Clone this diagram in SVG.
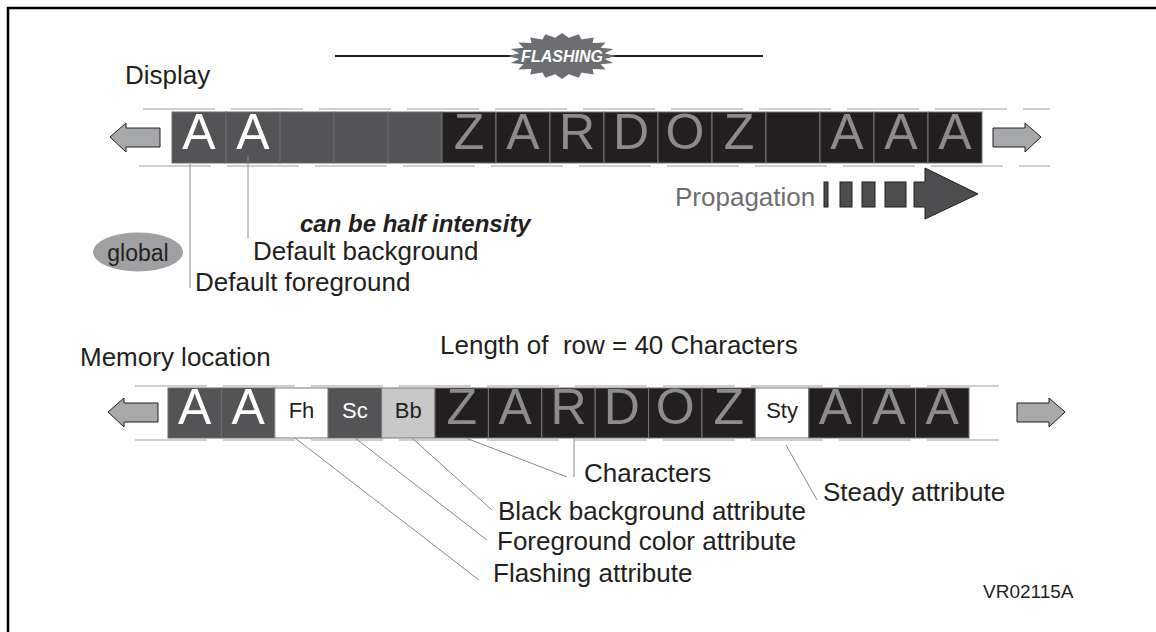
<svg xmlns="http://www.w3.org/2000/svg" width="1156" height="632" viewBox="0 0 1156 632">
<style>
.lbl{font-family:"Liberation Sans",Arial,sans-serif;font-size:26px;fill:#231f20}
.big{font-family:"Liberation Sans",Arial,sans-serif;font-size:50px;text-anchor:middle}
.sm{font-family:"Liberation Sans",Arial,sans-serif;font-size:22px;text-anchor:middle}
.gc{fill:#545456;stroke:#6a6a6c;stroke-width:1}
.bc{fill:#231f20;stroke:#77777a;stroke-width:1}
.dash{stroke:#cfcfcf;stroke-width:2;stroke-dasharray:72 16;fill:none}
.lead{stroke:#8a8a8a;stroke-width:1;fill:none}
.arr{fill:#a7a8aa;stroke:#231f20;stroke-width:1}
.prop{fill:#4d4d4f;stroke:#231f20;stroke-width:1}
</style>
<rect x="8" y="8" width="1170" height="650" fill="#fff" stroke="#000" stroke-width="2.5"/>
<g id="flashing">
<line x1="335" y1="56" x2="763" y2="56" stroke="#231f20" stroke-width="2"/>
<polygon transform="translate(562,56) scale(0.54,0.23)" fill="#6d6e71" points="100,0 79,12.5 95.1,30.9 71.3,36.3 80.9,58.8 56.6,56.6 58.8,80.9 36.3,71.3 30.9,95.1 12.5,79 0,100 -12.5,79 -30.9,95.1 -36.3,71.3 -58.8,80.9 -56.6,56.6 -80.9,58.8 -71.3,36.3 -95.1,30.9 -79,12.5 -100,0 -79,-12.5 -95.1,-30.9 -71.3,-36.3 -80.9,-58.8 -56.6,-56.6 -58.8,-80.9 -36.3,-71.3 -30.9,-95.1 -12.5,-79 0,-100 12.5,-79 30.9,-95.1 36.3,-71.3 58.8,-80.9 56.6,-56.6 80.9,-58.8 71.3,-36.3 95.1,-30.9 79,-12.5"/>
<text x="562" y="62" font-family="Liberation Sans,Arial,sans-serif" font-size="16" font-weight="bold" font-style="italic" fill="#fff" text-anchor="middle">FLASHING</text>
</g>
<g id="display-label"><text class="lbl" x="125" y="84">Display</text></g>
<g id="display-row">
<line class="dash" x1="143" y1="109" x2="1050" y2="109"/>
<line class="dash" x1="139" y1="166" x2="1050" y2="166"/>
<polygon class="arr" points="110,137 126,123 126,128 160,128 160,147 126,147 126,152"/>
<polygon class="arr" points="1041,137 1025,123 1025,128 993,128 993,147 1025,147 1025,152"/>
<rect class="gc" x="172" y="112" width="54" height="51"/>
<rect class="gc" x="226" y="112" width="54" height="51"/>
<rect class="gc" x="280" y="112" width="54" height="51"/>
<rect class="gc" x="334" y="112" width="54" height="51"/>
<rect class="gc" x="388" y="112" width="54" height="51"/>
<rect class="bc" x="442" y="112" width="54" height="51"/>
<rect class="bc" x="496" y="112" width="54" height="51"/>
<rect class="bc" x="550" y="112" width="54" height="51"/>
<rect class="bc" x="604" y="112" width="54" height="51"/>
<rect class="bc" x="658" y="112" width="54" height="51"/>
<rect class="bc" x="712" y="112" width="54" height="51"/>
<rect class="bc" x="766" y="112" width="54" height="51"/>
<rect class="bc" x="820" y="112" width="54" height="51"/>
<rect class="bc" x="874" y="112" width="54" height="51"/>
<rect class="bc" x="928" y="112" width="54" height="51"/>
<text class="big" x="199" y="149" fill="#fff">A</text>
<text class="big" x="253" y="149" fill="#fff">A</text>
<text class="big" x="469" y="149" fill="#8c8c8e">Z</text>
<text class="big" x="523" y="149" fill="#8c8c8e">A</text>
<text class="big" x="577" y="149" fill="#8c8c8e">R</text>
<text class="big" x="631" y="149" fill="#8c8c8e">D</text>
<text class="big" x="685" y="149" fill="#8c8c8e">O</text>
<text class="big" x="739" y="149" fill="#8c8c8e">Z</text>
<text class="big" x="847" y="149" fill="#8c8c8e">A</text>
<text class="big" x="901" y="149" fill="#8c8c8e">A</text>
<text class="big" x="955" y="149" fill="#8c8c8e">A</text>
</g>
<g id="propagation">
<text x="675" y="206" font-family="Liberation Sans,Arial,sans-serif" font-size="26" fill="#6d6e71">Propagation</text>
<rect class="prop" x="824" y="182" width="4" height="25"/>
<rect class="prop" x="840" y="182" width="12" height="25"/>
<rect class="prop" x="862" y="182" width="13" height="25"/>
<rect class="prop" x="885" y="182" width="21" height="25"/>
<polygon class="prop" points="914,182 925,182 925,168 978,194 925,219 925,207 914,207"/>
</g>
<g id="global">
<ellipse cx="138" cy="252" rx="45" ry="19.5" fill="#a0a0a2"/>
<text x="138" y="261" font-family="Liberation Sans,Arial,sans-serif" font-size="23" fill="#231f20" text-anchor="middle">global</text>
</g>
<g id="display-labels">
<text x="300" y="232" font-family="Liberation Sans,Arial,sans-serif" font-size="24" font-weight="bold" font-style="italic" fill="#231f20">can be half intensity</text>
<text class="lbl" x="253" y="260">Default background</text>
<text class="lbl" x="195" y="291">Default foreground</text>
</g>
<g id="memory-label"><text class="lbl" x="80" y="366">Memory location</text></g>
<g id="length-label"><text class="lbl" x="440" y="354" xml:space="preserve">Length of  row = 40 Characters</text></g>
<g id="memory-row">
<line class="dash" x1="135" y1="386" x2="1005" y2="386"/>
<line class="dash" x1="135" y1="440" x2="1005" y2="440"/>
<polygon class="arr" points="108,412 124,398 124,403 158,403 158,422 124,422 124,427"/>
<polygon class="arr" points="1065,412 1049,398 1049,403 1017,403 1017,422 1049,422 1049,427"/>
<rect class="gc" x="168" y="388" width="53.4" height="50"/>
<rect class="gc" x="221.4" y="388" width="53.4" height="50"/>
<rect x="274.8" y="388" width="53.4" height="50" fill="#fff" stroke="#77777a"/>
<rect class="gc" x="328.2" y="388" width="53.4" height="50"/>
<rect x="381.6" y="388" width="53.4" height="50" fill="#c8c8c9" stroke="#77777a"/>
<rect class="bc" x="435" y="388" width="53.4" height="50"/>
<rect class="bc" x="488.4" y="388" width="53.4" height="50"/>
<rect class="bc" x="541.8" y="388" width="53.4" height="50"/>
<rect class="bc" x="595.2" y="388" width="53.4" height="50"/>
<rect class="bc" x="648.6" y="388" width="53.4" height="50"/>
<rect class="bc" x="702" y="388" width="53.4" height="50"/>
<rect x="755.4" y="388" width="53.4" height="50" fill="#fff" stroke="#77777a"/>
<rect class="bc" x="808.8" y="388" width="53.4" height="50"/>
<rect class="bc" x="862.2" y="388" width="53.4" height="50"/>
<rect class="bc" x="915.6" y="388" width="53.4" height="50"/>
<text class="big" x="194.7" y="424" fill="#fff">A</text>
<text class="big" x="248.1" y="424" fill="#fff">A</text>
<text class="sm" x="301.5" y="418" fill="#231f20">Fh</text>
<text class="sm" x="354.9" y="418" fill="#fff">Sc</text>
<text class="sm" x="408.3" y="418" fill="#231f20">Bb</text>
<text class="big" x="461.7" y="424" fill="#8c8c8e">Z</text>
<text class="big" x="515.1" y="424" fill="#8c8c8e">A</text>
<text class="big" x="568.5" y="424" fill="#8c8c8e">R</text>
<text class="big" x="621.9" y="424" fill="#8c8c8e">D</text>
<text class="big" x="675.3" y="424" fill="#8c8c8e">O</text>
<text class="big" x="728.7" y="424" fill="#8c8c8e">Z</text>
<text class="sm" x="782.1" y="418" fill="#231f20">Sty</text>
<text class="big" x="835.5" y="424" fill="#8c8c8e">A</text>
<text class="big" x="888.9" y="424" fill="#8c8c8e">A</text>
<text class="big" x="942.3" y="424" fill="#8c8c8e">A</text>
</g>
<g id="connectors">
<line class="lead" x1="190" y1="164" x2="190" y2="288"/>
<line class="lead" x1="248" y1="156" x2="248" y2="238"/>
<line class="lead" x1="466" y1="438" x2="567" y2="477"/>
<line class="lead" x1="574" y1="438" x2="574" y2="477"/>
<line class="lead" x1="412" y1="438" x2="492" y2="510"/>
<line class="lead" x1="355" y1="438" x2="487" y2="540"/>
<line class="lead" x1="295" y1="438" x2="479" y2="580"/>
<line class="lead" x1="786" y1="445" x2="817" y2="500"/>
</g>
<g id="memory-labels">
<text class="lbl" x="584" y="482">Characters</text>
<text class="lbl" x="498" y="520">Black background attribute</text>
<text class="lbl" x="497" y="550">Foreground color attribute</text>
<text class="lbl" x="493" y="582">Flashing attribute</text>
<text class="lbl" x="823" y="501">Steady attribute</text>
<text x="983" y="598" font-family="Liberation Sans,Arial,sans-serif" font-size="19" fill="#231f20">VR02115A</text>
</g>
</svg>
